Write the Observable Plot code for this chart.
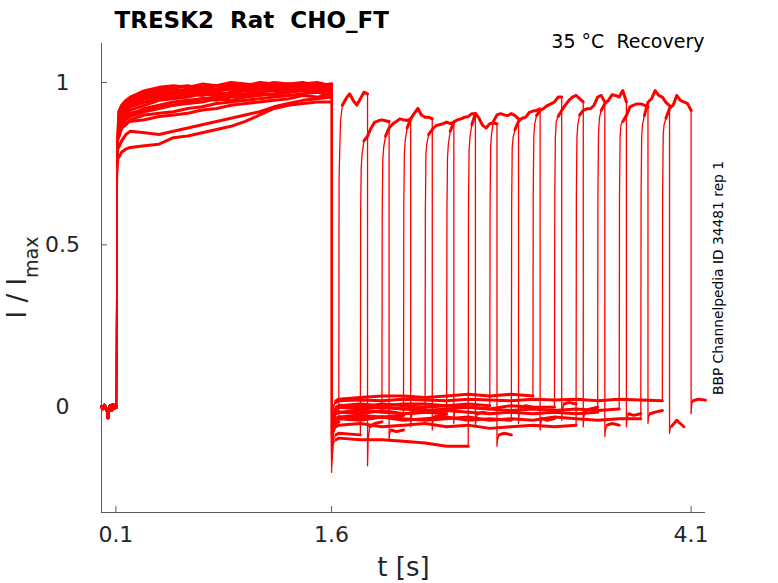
<!DOCTYPE html>
<html>
<head>
<meta charset="utf-8">
<script src="https://cdn.jsdelivr.net/npm/d3@7"></script>
<script src="https://cdn.jsdelivr.net/npm/@observablehq/plot@0.6"></script>
<style>
  html, body { margin: 0; padding: 0; background: #fff; }
  #chart { width: 778px; height: 583px; }
</style>
</head>
<body>
<div id="chart"></div>
<script>
// ---------- texts ----------
const title = "TRESK2  Rat  CHO_FT";
const condition = "35 °C  Recovery";
const sideNote = "BBP Channelpedia ID 34481 rep 1";
const xLabel = "t [s]";
const yLabelMain = "I / I";
const yLabelSub = "max";

// ---------- axes ----------
const xDomain = [0, 4.2];
const yDomain = [-0.324, 1.12];
const xTicks = [0.1, 1.6, 4.1];
const yTicks = [0, 0.5, 1];

// ---------- protocol timing (s) ----------
const p2Onset = [1.65, 1.80, 1.95, 2.10, 2.25, 2.40, 2.55, 2.70, 2.85, 3.00, 3.15, 3.30, 3.45, 3.60, 3.75, 3.90];
const p2Dur = 0.2;

// ---------- pre-pulse baseline (shared by all sweeps) ----------
const preT = [0, 0.01, 0.02, 0.03, 0.04, 0.045, 0.05, 0.06, 0.07, 0.08, 0.09, 0.1, 0.104];
const preI = [0.002, -0.004, 0.006, -0.003, -0.008, -0.032, -0.006, 0.004, -0.01, 0.008, -0.002, 0.003, 0.0];

// ---------- first pulse (P1) ----------
const p1T = [0.106, 0.108, 0.112, 0.12, 0.14, 0.17, 0.2, 0.3, 0.4, 0.5, 0.6, 0.7, 0.8, 0.9, 1.0, 1.1, 1.2, 1.3, 1.4, 1.5, 1.6];
const p1I = [
  [0.55, 0.80, 0.88, 0.91, 0.93, 0.945, 0.955, 0.975, 0.985, 0.99, 0.985, 0.995, 0.99, 1.0, 0.995, 0.99, 1.0, 0.995, 1.0, 0.99, 0.995],
  [0.50, 0.76, 0.84, 0.88, 0.905, 0.925, 0.94, 0.96, 0.975, 0.97, 0.98, 0.985, 0.975, 0.985, 0.99, 0.985, 0.995, 0.99, 0.99, 0.995, 0.985],
  [0.52, 0.78, 0.86, 0.90, 0.92, 0.935, 0.945, 0.965, 0.97, 0.98, 0.975, 0.985, 0.99, 0.985, 0.98, 0.99, 0.985, 0.995, 0.99, 0.985, 0.99],
  [0.48, 0.74, 0.82, 0.86, 0.885, 0.90, 0.915, 0.93, 0.945, 0.95, 0.955, 0.965, 0.96, 0.97, 0.975, 0.97, 0.98, 0.975, 0.985, 0.98, 0.985],
  [0.50, 0.77, 0.85, 0.89, 0.91, 0.92, 0.93, 0.95, 0.955, 0.96, 0.97, 0.965, 0.975, 0.98, 0.975, 0.985, 0.98, 0.99, 0.985, 0.99, 0.98],
  [0.47, 0.72, 0.80, 0.845, 0.87, 0.885, 0.895, 0.91, 0.92, 0.93, 0.935, 0.94, 0.95, 0.945, 0.955, 0.96, 0.965, 0.97, 0.975, 0.97, 0.975],
  [0.42, 0.62, 0.72, 0.77, 0.785, 0.795, 0.80, 0.805, 0.81, 0.83, 0.835, 0.845, 0.855, 0.865, 0.88, 0.90, 0.92, 0.93, 0.935, 0.94, 0.94],
  [0.45, 0.68, 0.76, 0.80, 0.82, 0.84, 0.85, 0.845, 0.84, 0.85, 0.86, 0.87, 0.88, 0.89, 0.90, 0.91, 0.925, 0.935, 0.945, 0.95, 0.955],
  [0.50, 0.75, 0.83, 0.87, 0.89, 0.90, 0.905, 0.915, 0.925, 0.93, 0.94, 0.95, 0.955, 0.96, 0.965, 0.97, 0.975, 0.97, 0.98, 0.975, 0.98],
  [0.53, 0.79, 0.87, 0.90, 0.915, 0.93, 0.94, 0.955, 0.96, 0.965, 0.96, 0.97, 0.975, 0.98, 0.985, 0.98, 0.99, 0.985, 0.99, 0.995, 0.99],
  [0.46, 0.70, 0.78, 0.83, 0.86, 0.875, 0.88, 0.885, 0.895, 0.90, 0.905, 0.915, 0.92, 0.93, 0.935, 0.94, 0.945, 0.95, 0.96, 0.955, 0.965],
  [0.51, 0.77, 0.85, 0.885, 0.90, 0.91, 0.925, 0.94, 0.95, 0.955, 0.965, 0.96, 0.97, 0.965, 0.975, 0.98, 0.975, 0.985, 0.98, 0.985, 0.975],
  [0.49, 0.73, 0.81, 0.85, 0.875, 0.89, 0.90, 0.92, 0.93, 0.94, 0.945, 0.95, 0.945, 0.955, 0.96, 0.965, 0.96, 0.97, 0.975, 0.98, 0.97],
  [0.54, 0.80, 0.88, 0.905, 0.925, 0.94, 0.95, 0.97, 0.98, 0.985, 0.99, 0.98, 0.99, 0.995, 0.99, 1.0, 0.995, 0.99, 0.995, 1.0, 0.99],
  [0.47, 0.71, 0.79, 0.835, 0.86, 0.87, 0.885, 0.90, 0.905, 0.91, 0.92, 0.925, 0.935, 0.94, 0.945, 0.95, 0.955, 0.96, 0.965, 0.97, 0.96],
  [0.52, 0.78, 0.86, 0.895, 0.91, 0.925, 0.935, 0.95, 0.965, 0.97, 0.975, 0.975, 0.98, 0.99, 0.985, 0.99, 0.99, 0.995, 0.985, 0.99, 0.995]
];

// ---------- recovery interval between pulses ----------
const intT = [1.6, 1.603, 1.612, 1.63, 1.65, 1.8, 1.95, 2.1, 2.25, 2.4, 2.55, 2.7, 2.85, 3.0, 3.15, 3.3, 3.45, 3.6, 3.75, 3.9];
const intI = [
  [-0.20, -0.13, -0.08, -0.05, -0.045],
  [-0.15, -0.16, -0.10, -0.085, -0.08, -0.085],
  [-0.12, -0.09, -0.04, -0.01, 0.0, 0.005, 0.0],
  [-0.10, -0.12, -0.06, -0.035, -0.03, -0.025, -0.03, -0.025],
  [-0.11, -0.08, -0.03, -0.005, 0.005, 0.0, 0.01, 0.005, 0.0],
  [-0.14, -0.10, -0.05, -0.02, -0.015, -0.02, -0.01, -0.02, -0.015, -0.02],
  [-0.18, -0.15, -0.11, -0.10, -0.095, -0.10, -0.10, -0.105, -0.11, -0.12, -0.12],
  [-0.09, -0.07, -0.02, 0.0, 0.005, 0.01, 0.005, 0.01, 0.01, 0.005, 0.01, 0.005],
  [-0.13, -0.10, -0.06, -0.035, -0.03, -0.035, -0.03, -0.04, -0.035, -0.03, -0.04, -0.035, -0.04],
  [-0.08, -0.04, 0.0, 0.02, 0.025, 0.03, 0.035, 0.035, 0.03, 0.035, 0.04, 0.035, 0.04, 0.035],
  [-0.12, -0.08, -0.03, -0.005, 0.0, 0.005, 0.0, -0.005, 0.0, 0.005, 0.0, -0.005, 0.005, 0.0, 0.0],
  [-0.16, -0.12, -0.08, -0.06, -0.055, -0.05, -0.06, -0.055, -0.05, -0.06, -0.055, -0.065, -0.06, -0.055, -0.06, -0.055],
  [-0.10, -0.08, -0.04, -0.02, -0.015, -0.01, -0.015, -0.02, -0.015, -0.01, -0.015, -0.02, -0.015, -0.02, -0.015, -0.02, -0.015],
  [-0.09, -0.06, -0.02, -0.005, 0.0, -0.005, 0.0, -0.005, -0.01, -0.005, 0.0, -0.005, -0.01, -0.005, -0.01, -0.005, -0.01, -0.005],
  [-0.14, -0.10, -0.06, -0.04, -0.035, -0.04, -0.03, -0.035, -0.04, -0.035, -0.03, -0.04, -0.035, -0.04, -0.03, -0.035, -0.04, -0.035, -0.035],
  [-0.07, -0.03, 0.005, 0.015, 0.02, 0.022, 0.02, 0.025, 0.022, 0.02, 0.025, 0.022, 0.02, 0.025, 0.022, 0.025, 0.02, 0.025, 0.022, 0.02]
];

// ---------- second pulse (P2), times relative to its onset ----------
const p2Rel = [0.002, 0.006, 0.012, 0.025, 0.05, 0.075, 0.1, 0.125, 0.15, 0.175, 0.2];
const p2I = [
  [0.70, 0.78, 0.88, 0.93, 0.95, 0.965, 0.945, 0.93, 0.95, 0.97, 0.965],
  [0.60, 0.74, 0.78, 0.82, 0.835, 0.86, 0.878, 0.882, 0.885, 0.882, 0.88],
  [0.60, 0.76, 0.80, 0.835, 0.86, 0.872, 0.88, 0.888, 0.885, 0.883, 0.888],
  [0.62, 0.78, 0.82, 0.86, 0.888, 0.905, 0.92, 0.90, 0.893, 0.893, 0.888],
  [0.60, 0.78, 0.81, 0.84, 0.855, 0.867, 0.87, 0.873, 0.878, 0.873, 0.878],
  [0.60, 0.77, 0.81, 0.85, 0.878, 0.885, 0.888, 0.893, 0.895, 0.904, 0.904],
  [0.62, 0.79, 0.83, 0.87, 0.905, 0.89, 0.868, 0.86, 0.873, 0.875, 0.873],
  [0.62, 0.80, 0.84, 0.88, 0.90, 0.904, 0.90, 0.898, 0.904, 0.898, 0.888],
  [0.62, 0.80, 0.83, 0.855, 0.88, 0.89, 0.893, 0.908, 0.912, 0.914, 0.919],
  [0.65, 0.83, 0.87, 0.898, 0.914, 0.92, 0.929, 0.934, 0.94, 0.955, 0.955],
  [0.65, 0.83, 0.88, 0.895, 0.914, 0.93, 0.945, 0.955, 0.96, 0.95, 0.94],
  [0.65, 0.83, 0.87, 0.90, 0.914, 0.919, 0.919, 0.93, 0.955, 0.96, 0.94],
  [0.66, 0.84, 0.89, 0.914, 0.935, 0.945, 0.962, 0.96, 0.955, 0.975, 0.94],
  [0.65, 0.83, 0.87, 0.88, 0.898, 0.925, 0.93, 0.934, 0.934, 0.93, 0.924],
  [0.65, 0.83, 0.87, 0.898, 0.939, 0.95, 0.975, 0.96, 0.955, 0.939, 0.929],
  [0.66, 0.84, 0.87, 0.89, 0.92, 0.93, 0.96, 0.945, 0.94, 0.935, 0.914]
];

// ---------- after P2, times relative to its end ----------
const postRel = [0.0, 0.004, 0.015, 0.05, 0.1];
const postI = [
  [-0.18, -0.10, -0.06, -0.05, -0.045],
  [-0.10, -0.08, -0.07, -0.075, -0.07],
  [-0.06, -0.03, -0.01, 0.0, -0.005],
  [-0.07, -0.045, -0.03, -0.025, -0.03],
  [-0.05, -0.02, 0.0, 0.005, 0.0],
  [-0.06, -0.035, -0.02, -0.015, -0.02],
  [-0.12, -0.10, -0.085, -0.08, -0.085],
  [-0.05, -0.02, 0.0, 0.005, 0.0],
  [-0.07, -0.05, -0.035, -0.04, -0.035],
  [-0.04, -0.01, 0.01, 0.015, 0.01],
  [-0.06, -0.03, -0.01, -0.005, 0.0],
  [-0.09, -0.07, -0.055, -0.05, -0.055],
  [-0.06, -0.035, -0.02, -0.025, -0.02],
  [-0.05, -0.03, -0.02, -0.015, -0.01],
  [-0.08, -0.065, -0.058, -0.04, -0.06],
  [-0.02, 0.01, 0.02, 0.025, 0.022]
];

// ---------- assemble sweep table ----------
// "steady" marks the sample as part of a noisy plateau/baseline (drawn with a
// wider stroke to mimic the recording noise band), vs. a fast transition.
const rows = [];
p2Onset.forEach((onset, k) => {
  preT.forEach((t, i) => rows.push({sweep: k, seg: "pre", t, v: preI[i], steady: true}));
  p1T.forEach((t, i) => rows.push({sweep: k, seg: "p1", t, v: p1I[k][i], steady: i >= 3}));
  intI[k].forEach((v, i) => rows.push({sweep: k, seg: "int", t: intT[i], v, steady: i >= 3}));
  p2Rel.forEach((dt, i) => rows.push({sweep: k, seg: "p2", t: onset + dt, v: p2I[k][i], steady: i >= 3}));
  const end = onset + p2Dur;
  postRel.forEach((dt, i) => rows.push({sweep: k, seg: "post", t: end + dt, v: postI[k][i], steady: i >= 2}));
});
const steadyRows = rows.filter(d => d.steady);

const W = 778, H = 583;
const mL = 101, mR = 73, mT = 43, mB = 71;
const axisColor = "#5a5a5a";
const labelColor = "#262626";

const chart = Plot.plot({
  width: W, height: H,
  marginLeft: mL, marginRight: mR, marginTop: mT, marginBottom: mB,
  style: "font-family: 'DejaVu Sans', sans-serif; background: #fff; white-space: pre; overflow: visible;",
  x: {domain: xDomain, axis: null},
  y: {domain: yDomain, axis: null},
  marks: [
    Plot.line(rows, {x: "t", y: "v", z: "sweep", stroke: "#ff0000", strokeWidth: 1.3, strokeLinejoin: "round"}),
    Plot.line(steadyRows, {x: "t", y: "v", z: d => d.sweep + "-" + d.seg, stroke: "#ff0000", strokeWidth: 3, strokeLinejoin: "round"}),
    Plot.ruleX([xDomain[0]], {stroke: axisColor, strokeWidth: 1}),
    Plot.ruleY([yDomain[0]], {stroke: axisColor, strokeWidth: 1}),
    Plot.tickX(xTicks, {x: d => d, stroke: axisColor, insetTop: H - mT - mB - 6}),
    Plot.tickY(yTicks, {y: d => d, stroke: axisColor, insetRight: W - mL - mR - 6}),
    Plot.axisX({ticks: xTicks, tickSize: 0, tickPadding: 14, fontSize: 22, fill: labelColor, tickFormat: d => String(d), label: null}),
    Plot.axisY({ticks: yTicks, tickSize: 0, tickPadding: 39, textAnchor: "middle", fontSize: 22, fill: labelColor, tickFormat: d => String(d), label: null}),
    Plot.text([xLabel], {text: d => d, frameAnchor: "bottom", dy: 63, lineAnchor: "bottom", fontSize: 26, fill: labelColor}),
    Plot.text([title], {text: d => d, frameAnchor: "top-left", dx: 13, dy: -16, lineAnchor: "bottom", textAnchor: "start", fontSize: 23, fontWeight: "bold", fill: "#000"}),
    Plot.text([condition], {text: d => d, frameAnchor: "top-right", dx: -1, dy: 4, lineAnchor: "bottom", textAnchor: "end", fontSize: 19, fill: "#000"}),
    Plot.text([sideNote], {text: d => d, frameAnchor: "right", rotate: -90, dx: 17, lineAnchor: "bottom", textAnchor: "middle", fontSize: 13.8, fill: "#000"})
  ]
});

// y-axis label with subscript
const svg = d3.select(chart);
const yl = svg.append("text")
  .attr("transform", `translate(26,${(mT + H - mB) / 2}) rotate(-90)`)
  .attr("text-anchor", "middle")
  .attr("font-family", "'DejaVu Sans', sans-serif")
  .attr("font-size", 26)
  .attr("fill", labelColor);
yl.append("tspan").text(yLabelMain);
yl.append("tspan").attr("dy", 12).attr("font-size", 19).text(yLabelSub);

document.getElementById("chart").appendChild(chart);
</script>
</body>
</html>
